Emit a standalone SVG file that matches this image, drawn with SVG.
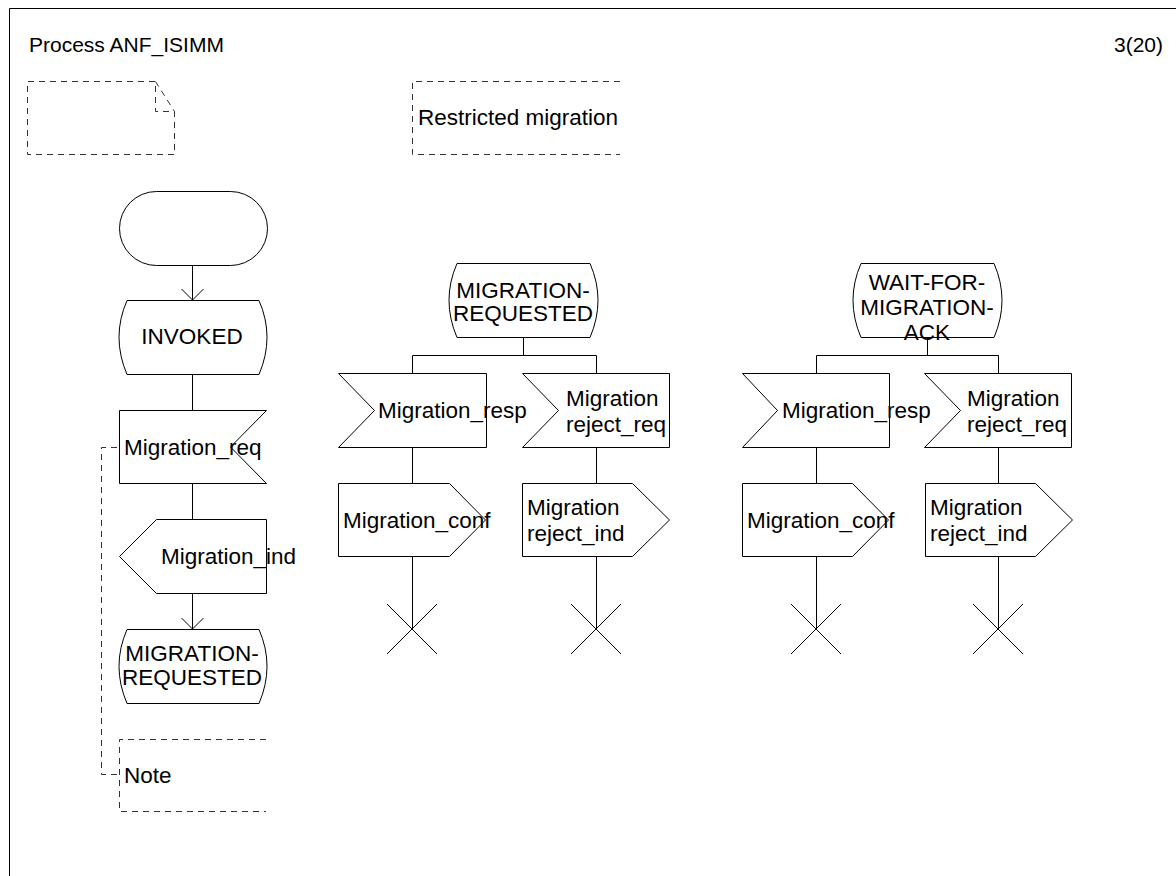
<svg xmlns="http://www.w3.org/2000/svg" width="1176" height="876" viewBox="0 0 1176 876">
<style>
.s{fill:#fff;stroke:#000;stroke-width:1}
.l{fill:none;stroke:#000;stroke-width:1}
.d{fill:none;stroke:#333;stroke-width:1;stroke-dasharray:6 5}
text{font-family:"Liberation Sans",Arial,sans-serif;font-size:22.5px;fill:#000}
.h{font-size:21px}
.m{text-anchor:middle}
</style>
<defs>
<marker id="a" markerWidth="14" markerHeight="24" refX="12" refY="12" orient="auto" markerUnits="userSpaceOnUse" viewBox="0 0 14 24"><path d="M1,1 L12,12 L1,23" fill="none" stroke="#000"/></marker>
</defs>
<rect width="1176" height="876" fill="#fff"/>
<g id="frame"><path class="l" d="M9.5,876 V8.5 H1176"/></g>
<text class="h" x="29" y="52">Process ANF_ISIMM</text>
<text class="h" x="1163" y="52" text-anchor="end">3(20)</text>
<g id="textsym"><path class="d" d="M155,81.5 H27.5 V154.5 H174.5 V111.5 H155.5 V81.5 M155.5,81.5 L174.5,111.5"/></g>
<g id="comment1"><path class="d" d="M620,81.5 H412.5 V154.5 H620"/><text x="418" y="125">Restricted migration</text></g>
<g id="connectors">
<line class="l" x1="192.5" y1="266" x2="192.5" y2="300" marker-end="url(#a)"/>
<line class="l" x1="192.5" y1="374" x2="192.5" y2="410"/>
<line class="l" x1="192.5" y1="483" x2="192.5" y2="519"/>
<line class="l" x1="192.5" y1="593" x2="192.5" y2="629" marker-end="url(#a)"/>
<path class="d" d="M117,447.5 H101.5 V774.5 H117"/>
<line class="l" x1="523.5" y1="337" x2="523.5" y2="355"/>
<path class="l" d="M412.5,373 V355.5 H596.5 V373"/>
<line class="l" x1="412.5" y1="447" x2="412.5" y2="483"/>
<line class="l" x1="596.5" y1="447" x2="596.5" y2="483"/>
<line class="l" x1="412.5" y1="556" x2="412.5" y2="629"/>
<line class="l" x1="596.5" y1="556" x2="596.5" y2="629"/>
<line class="l" x1="927.5" y1="337" x2="927.5" y2="355"/>
<path class="l" d="M816.5,373 V355.5 H998.5 V373"/>
<line class="l" x1="816.5" y1="447" x2="816.5" y2="483"/>
<line class="l" x1="998.5" y1="447" x2="998.5" y2="483"/>
<line class="l" x1="816.5" y1="556" x2="816.5" y2="629"/>
<line class="l" x1="998.5" y1="556" x2="998.5" y2="629"/>
</g>
<g id="start"><rect class="s" x="119.5" y="191.5" width="148" height="74" rx="37" ry="37"/></g>
<g id="invoked"><path class="s" d="M127,300.5 H259 Q275,337 259,374.5 H127 Q111,337 127,300.5Z"/><text class="m" x="192" y="344">INVOKED</text></g>
<g id="migreq"><path class="s" d="M119.5,410.5 H266.5 L230.5,447 L266.5,483.5 H119.5Z"/><text x="124" y="455">Migration_req</text></g>
<g id="migind"><path class="s" d="M156.5,519.5 H266.5 V593.5 H156.5 L119.5,556.5Z"/><text x="161" y="564">Migration_ind</text></g>
<g id="migreqstate"><path class="s" d="M127,629.5 H259 Q275,666 259,703.5 H127 Q111,666 127,629.5Z"/><text class="m" x="192" y="661">MIGRATION-</text><text class="m" x="192" y="685">REQUESTED</text></g>
<g id="note"><path class="d" d="M266,739.5 H119.5 V811.5 H266"/><text x="124" y="783">Note</text></g>
<g id="state2"><path class="s" d="M457,263.5 H590 Q606,300 590,337.5 H457 Q441,300 457,263.5Z"/><text class="m" x="523" y="298">MIGRATION-</text><text class="m" x="523" y="321">REQUESTED</text></g>
<g id="in2a"><path class="s" d="M338.5,373.5 H486.5 V447.5 H338.5 L374.5,410.5Z"/><text x="378" y="418">Migration_resp</text></g>
<g id="in2b"><path class="s" d="M522.5,373.5 H669.5 V447.5 H522.5 L558.5,410.5Z"/><text x="566" y="406">Migration</text><text x="566" y="432">reject_req</text></g>
<g id="out2a"><path class="s" d="M338.5,483.5 H449.5 L485.5,520 L449.5,556.5 H338.5Z"/><text x="343" y="528">Migration_conf</text></g>
<g id="out2b"><path class="s" d="M522.5,483.5 H632.5 L669.5,520 L632.5,556.5 H522.5Z"/><text x="527" y="515">Migration</text><text x="527" y="541">reject_ind</text></g>
<g id="stop2a"><path class="l" d="M387,604 L437,654 M437,604 L387,654"/></g>
<g id="stop2b"><path class="l" d="M571,604 L621,654 M621,604 L571,654"/></g>
<g id="state3"><path class="s" d="M861,263.5 H994 Q1010,300 994,337.5 H861 Q845,300 861,263.5Z"/><text class="m" x="927" y="290">WAIT-FOR-</text><text class="m" x="927" y="315">MIGRATION-</text><text class="m" x="927" y="340">ACK</text></g>
<g id="in3a"><path class="s" d="M742.5,373.5 H889.5 V447.5 H742.5 L777.5,410.5Z"/><text x="782" y="418">Migration_resp</text></g>
<g id="in3b"><path class="s" d="M924.5,373.5 H1071.5 V447.5 H924.5 L960.5,410.5Z"/><text x="967" y="406">Migration</text><text x="967" y="432">reject_req</text></g>
<g id="out3a"><path class="s" d="M742.5,483.5 H852.5 L888.5,520 L852.5,556.5 H742.5Z"/><text x="747" y="528">Migration_conf</text></g>
<g id="out3b"><path class="s" d="M925.5,483.5 H1035.5 L1072.5,520 L1035.5,556.5 H925.5Z"/><text x="930" y="515">Migration</text><text x="930" y="541">reject_ind</text></g>
<g id="stop3a"><path class="l" d="M791,604 L841,654 M841,604 L791,654"/></g>
<g id="stop3b"><path class="l" d="M973,604 L1023,654 M1023,604 L973,654"/></g>
</svg>
